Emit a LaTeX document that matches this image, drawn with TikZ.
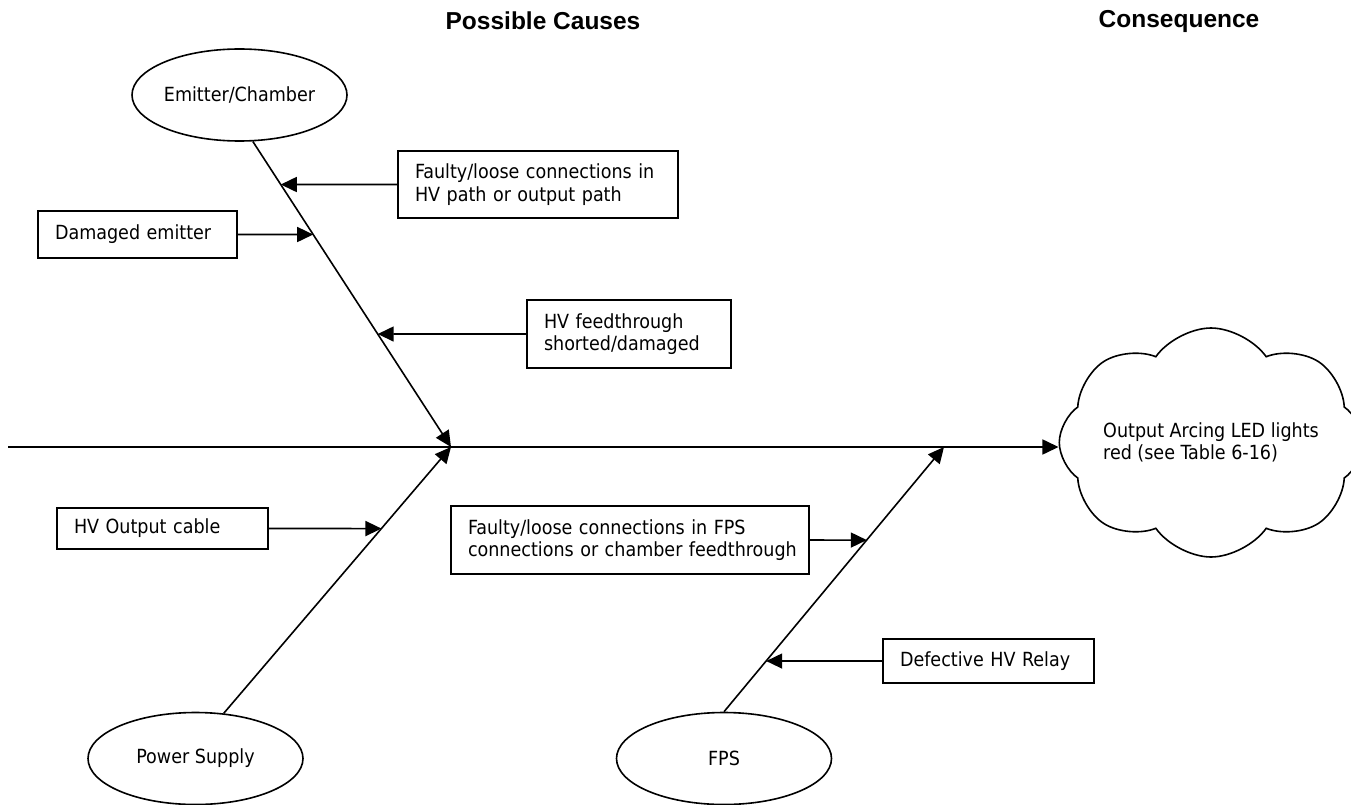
\documentclass[tikz,border=0pt]{standalone}
\usepackage{fontspec}
\setmainfont{DejaVu Sans Condensed}
\newfontfamily\titlefont{Liberation Sans}
\usetikzlibrary{shapes.geometric, shapes.symbols, arrows.meta, calc}

\begin{document}
\begin{tikzpicture}[
    x=1pt, y=-1pt, % one unit = one pixel of the sheet
    > = {Triangle[length=16pt, width=15pt]},
    line width=1.6pt,
    every node/.style={font=\fontsize{19.5}{22.3}\selectfont},
    source/.style={ellipse, draw, minimum width=215pt, minimum height=92pt, inner sep=0pt},
    cause/.style={rectangle, draw, align=left, inner xsep=17pt, inner ysep=0pt},
    heading/.style={font=\titlefont\bfseries\fontsize{24.5}{28}\selectfont},
    effect/.style={cloud, draw, cloud puffs=8, cloud puff arc=110, cloud ignores aspect,
        minimum width=285pt, minimum height=229pt, align=left}
]
\useasboundingbox (0,0) rectangle (1351,805);

% --- Headings ---
\node[heading] (causes) at (543,21) {Possible Causes};
\node[heading] (consequence) at (1179,21) {Consequence};

% --- Sources of the bones ---
\node[source] (emitter) at (239.5,95) {Emitter/Chamber};
\node[source] (power) at (195.5,758.5) {Power Supply};
\node[source] (fps) at (724,758.5) {FPS};

% --- Effect ---
\node[effect] (arcing) at (1211,442.5) {Output Arcing LED lights\\red (see Table 6-16)};

% --- Spine and bones ---
\coordinate (tail) at (8,447);
\coordinate (hubA) at (451,447);
\coordinate (hubB) at (944,447);
\coordinate (rootE) at (emitter.-74);
\coordinate (rootP) at (power.58);
\coordinate (rootF) at (fps.north);

\draw[->] (tail) -- (tail -| arcing.west);
\draw[->] (rootE) -- (hubA);
\draw[->] (rootP) -- (hubA);
\draw[->] (rootF) -- (hubB);

% --- Causes ---
\node[cause, text width=246pt, minimum height=67pt] (looseHV) at (538,184.5) {Faulty/loose connections in\\HV path or output path};
\node[cause, text width=165pt, minimum height=47pt] (emitterDmg) at (137.5,234.5) {Damaged emitter};
\node[cause, text width=170pt, minimum height=68pt] (feedthrough) at (629,334) {HV feedthrough\\shorted/damaged};
\node[cause, text width=177pt, minimum height=41pt] (cable) at (162.5,528.5) {HV Output cable};
\node[cause, text width=324pt, minimum height=68pt] (looseFPS) at (630,540) {\mbox{Faulty/loose connections in FPS}\\\mbox{connections or chamber feedthrough}};
\node[cause, text width=177pt, minimum height=44pt] (relay) at (988.5,661) {Defective HV Relay};

% arrows from causes onto the bones
\draw[->] (looseHV) -- (intersection of rootE--hubA and looseHV.west--looseHV.east);
\draw[->] (emitterDmg) -- (intersection of rootE--hubA and emitterDmg.west--emitterDmg.east);
\draw[->] (feedthrough) -- (intersection of rootE--hubA and feedthrough.west--feedthrough.east);
\draw[->] (cable) -- (intersection of rootP--hubA and cable.west--cable.east);
\draw[->] (looseFPS) -- (intersection of rootF--hubB and looseFPS.west--looseFPS.east);
\draw[->] (relay) -- (intersection of rootF--hubB and relay.west--relay.east);

\end{tikzpicture}
\end{document}
